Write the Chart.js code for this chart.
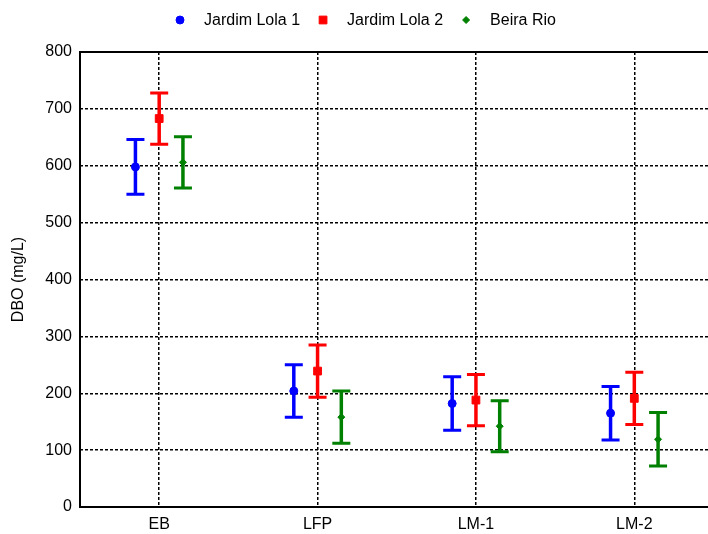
<!DOCTYPE html>
<html lang="pt">
<head>
<meta charset="UTF-8">
<title>DBO por ponto de coleta</title>
<style>
  body { margin: 0; overflow: hidden; background: #fff; }
  #quadro { width: 708px; height: 534px; overflow: hidden; }
  canvas { display: block; }
</style>
</head>
<body>
<!-- a área do gráfico passa um pouco da borda direita da janela -->
<div id="quadro"><canvas id="dboChart" width="720" height="534"></canvas></div>
<script src="https://cdn.jsdelivr.net/npm/chart.js"></script>
<script>
// pontos de coleta e marcas do eixo Y
const pontos = ['EB', 'LFP', 'LM-1', 'LM-2'];
const yTicks = [0, 100, 200, 300, 400, 500, 600, 700, 800];

// média e desvio de DBO (mg/L) por lagoa
const lola1 = [598, 204, 182, 165];
const lola1Erro = [48, 46, 47, 47];
const lola2 = [683, 239, 188, 191];
const lola2Erro = [45, 46, 45, 46];
const beira = [606, 158, 142, 119];
const beiraErro = [45, 46, 45, 47];

const fonte = '"Liberation Sans", Arial, sans-serif';
Chart.defaults.font.family = fonte;
Chart.defaults.font.size = 16;
Chart.defaults.color = '#000';

function serie(label, valores, erros, desloc, cor, estilo, raio) {
    return {
        label: label,
        data: valores.map((v, i) => ({ x: i + desloc, y: v, err: erros[i] })),
        backgroundColor: cor,
        borderColor: cor,
        borderWidth: 1,
        pointStyle: estilo,
        pointRadius: raio,
        pointHoverRadius: raio,
        showLine: false
    };
}

// moldura e barras de erro, desenhadas antes dos marcadores
const barrasErro = {
    id: 'barrasErro',
    beforeDatasetsDraw(chart) {
        const { ctx, chartArea: a, scales: { x, y } } = chart;
        ctx.save();
        ctx.strokeStyle = '#000';
        ctx.lineWidth = 2;
        ctx.strokeRect(a.left, a.top, a.right - a.left, a.bottom - a.top);

        chart.data.datasets.forEach(ds => {
            ctx.strokeStyle = ds.borderColor;
            ds.data.forEach(p => {
                const px = x.getPixelForValue(p.x);
                const topo = y.getPixelForValue(p.y + p.err);
                const base = y.getPixelForValue(p.y - p.err);
                ctx.lineWidth = 3.5;
                ctx.beginPath();
                ctx.moveTo(px, topo); ctx.lineTo(px, base);
                ctx.stroke();
                ctx.lineWidth = 3;
                ctx.beginPath();
                ctx.moveTo(px - 9, topo); ctx.lineTo(px + 9, topo);
                ctx.moveTo(px - 9, base); ctx.lineTo(px + 9, base);
                ctx.stroke();
            });
        });
        ctx.restore();
    }
};

// legenda em linha no topo
const legenda = {
    id: 'legenda',
    afterDraw(chart) {
        const ctx = chart.ctx;
        ctx.save();
        ctx.font = '16px ' + fonte;
        ctx.textBaseline = 'middle';
        let x = 180;
        const y = 20;
        chart.data.datasets.forEach(ds => {
            ctx.fillStyle = ds.backgroundColor;
            ctx.strokeStyle = ds.borderColor;
            ctx.lineWidth = 1;
            Chart.helpers.drawPoint(ctx, {
                pointStyle: ds.pointStyle, radius: ds.pointRadius, rotation: 0, borderWidth: 1
            }, x, y);
            ctx.fillStyle = '#000';
            ctx.fillText(ds.label, x + 24, y + 1);
            x += 24 + ctx.measureText(ds.label).width + 23;
        });
        ctx.restore();
    }
};

new Chart(document.getElementById('dboChart'), {
    type: 'scatter',
    data: {
        datasets: [
            serie('Jardim Lola 1', lola1, lola1Erro, -0.15, '#0000ff', 'circle', 4),
            serie('Jardim Lola 2', lola2, lola2Erro, 0, '#ff0000', 'rect', 5.5),
            serie('Beira Rio', beira, beiraErro, 0.15, '#008000', 'rectRot', 3.5)
        ]
    },
    options: {
        responsive: false,
        animation: false,
        layout: { padding: { top: 52, right: 4, left: 0, bottom: 0 } },
        plugins: {
            legend: { display: false },
            tooltip: { enabled: false }
        },
        scales: {
            x: {
                type: 'linear',
                min: -0.5,
                max: 3.5,
                afterBuildTicks: s => { s.ticks = pontos.map((_, i) => ({ value: i })); },
                afterFit: s => { s.height = 27; },
                ticks: { padding: 8, callback: v => pontos[v], maxRotation: 0 },
                grid: { color: '#000', lineWidth: 1.5, drawTicks: false },
                border: { display: false, dash: [3, 2] }
            },
            y: {
                min: 0,
                max: 800,
                afterBuildTicks: s => { s.ticks = yTicks.map(v => ({ value: v })); },
                afterFit: s => { s.width = 80; },
                ticks: { padding: 8 },
                grid: { color: '#000', lineWidth: 1.5, drawTicks: false },
                border: { display: false, dash: [3, 2] },
                title: { display: true, text: 'DBO (mg/L)', padding: { top: 9, bottom: 0 } }
            }
        }
    },
    plugins: [barrasErro, legenda]
});
</script>
</body>
</html>
